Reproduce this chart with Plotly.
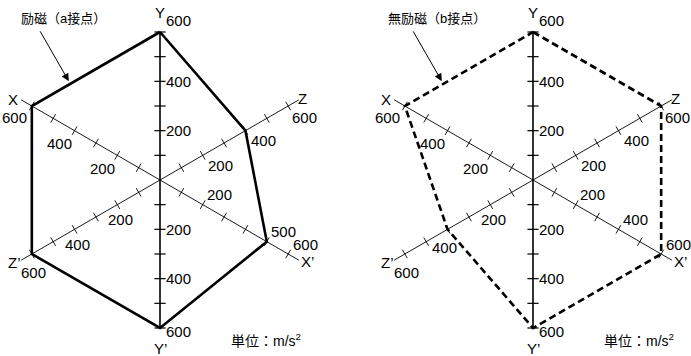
import math
import plotly.graph_objects as go

# axes in drawing order, angle measured counter-clockwise from +x
axis_names = ["Y", "Z", "X’", "Y’", "Z’", "X"]
axis_angles = [90, 30, -30, -90, 210, 150]
axis_extent = [600, 650, 650, 600, 650, 650]
tick_values = [100, 200, 300, 400, 500, 600]

# values (m/s2) on Y, Z, X', Y', Z', X
excited = [600, 400, 500, 600, 600, 600]
non_excited = [600, 600, 600, 600, 400, 600]

labels_excited = [[200, 400, 600], [200, 400, 600], [200, 500, 600],
                  [200, 400, 600], [200, 400, 600], [200, 400, 600]]
labels_non_excited = [[200, 400, 600], [200, 400, 600], [200, 400, 600],
                      [200, 400, 600], [200, 400, 600], [200, 400, 600]]

titles = ["励磁（a接点）", "無励磁（b接点）"]
unit_text = "単位：m/s<sup>2</sup>"

W, H = 691, 356
PX = 148 / 600  # pixels per m/s2
centers = [(160, 180), (533, 180)]
FONT = "Liberation Sans, Arial, Noto Sans CJK JP"


def pt(v, ang):
    a = math.radians(ang)
    return v * math.cos(a), v * math.sin(a)


# label offsets in pixels (dx, dy down) for normal and end (600) labels
lab_off = [(18, 0), (18, 10), (17, -10), (18, 0), (3, 15), (-15, 13)]
end_off = [(18, -12), (16, 11), (17, -10), (18, 3), (2, 18), (-17, 11)]
name_off = [(0, -20), (14, -8), (19, 7), (0, 20), (-17, 8), (-19, -7)]

fig = go.Figure()
annotations = []

panels = [(excited, labels_excited, "solid"), (non_excited, labels_non_excited, "7px,4px")]
for i, (vals, labs, dash) in enumerate(panels):
    xa = "x" if i == 0 else "x2"
    ya = "y" if i == 0 else "y2"

    # axis lines through the centre
    for a, b in [(0, 3), (1, 4), (2, 5)]:
        x0, y0 = pt(axis_extent[a], axis_angles[a])
        x1, y1 = pt(axis_extent[b], axis_angles[b])
        fig.add_trace(go.Scatter(
            x=[x0, x1], y=[y0, y1], mode="lines", xaxis=xa, yaxis=ya,
            line=dict(color="black", width=1.6 if a == 0 else 0.9),
            showlegend=False, hoverinfo="skip"))

    # tick marks
    for j, ang in enumerate(axis_angles):
        xs = [pt(v, ang)[0] for v in tick_values]
        ys = [pt(v, ang)[1] for v in tick_values]
        fig.add_trace(go.Scatter(
            x=xs, y=ys, mode="markers", xaxis=xa, yaxis=ya,
            marker=dict(symbol="line-ns", size=8 if j in (0, 3) else 7, angle=-ang,
                        line=dict(color="black", width=1.2 if j in (0, 3) else 0.9)),
            showlegend=False, hoverinfo="skip"))

    # polygon
    px = [pt(v, a)[0] for v, a in zip(vals, axis_angles)]
    py = [pt(v, a)[1] for v, a in zip(vals, axis_angles)]
    fig.add_trace(go.Scatter(
        x=px + px[:1], y=py + py[:1], mode="lines", xaxis=xa, yaxis=ya,
        line=dict(color="black", width=2.6, dash=dash),
        showlegend=False, hoverinfo="skip"))

    # tick labels
    for j, ang in enumerate(axis_angles):
        for v in labs[j]:
            x, y = pt(v, ang)
            dx, dy = end_off[j] if v == 600 else lab_off[j]
            # label pushed aside where the dashed edge crosses it
            if v == vals[j] and v != 600 and j == 4:
                dx, dy = dx - 6, dy + 3
            annotations.append(dict(
                x=x, y=y, xref=xa, yref=ya, text=str(v), showarrow=False,
                xshift=dx, yshift=-dy, font=dict(size=15, color="black", family=FONT)))
        # axis names
        x, y = pt(600, ang)
        dx, dy = name_off[j]
        annotations.append(dict(
            x=x, y=y, xref=xa, yref=ya, text=axis_names[j], showarrow=False,
            xshift=dx, yshift=-dy, font=dict(size=15, color="black", family=FONT)))

    # title with arrow pointing at the X-Y edge
    cx = centers[i][0]
    annotations.append(dict(
        x=(cx - 96) / W, y=1 - 19 / H, xref="paper", yref="paper", text=titles[i],
        xanchor="center", yanchor="middle", showarrow=False,
        font=dict(size=13, color="black", family=FONT)))
    t = 0.3
    xX, yX = pt(vals[5], axis_angles[5])
    xY, yY = pt(vals[0], axis_angles[0])
    annotations.append(dict(
        x=xX + t * (xY - xX), y=yX + t * (yY - yX), xref=xa, yref=ya, text="",
        showarrow=True, arrowhead=2, arrowsize=1.5, arrowwidth=1, arrowcolor="black",
        ax=-31, ay=-54, standoff=3))

    annotations.append(dict(
        x=(cx + 106) / W, y=1 - 340 / H, xref="paper", yref="paper", text=unit_text,
        xanchor="center", yanchor="middle", showarrow=False,
        font=dict(size=14, color="black", family=FONT)))


def axis_range(c, lo, hi):
    return [(lo - c) / PX, (hi - c) / PX]


half = W / 2
fig.update_layout(
    width=W, height=H,
    margin=dict(l=0, r=0, t=0, b=0),
    paper_bgcolor="white", plot_bgcolor="white",
    xaxis=dict(domain=[0, 0.5], range=axis_range(centers[0][0], 0, half), visible=False),
    yaxis=dict(domain=[0, 1], range=[-(H - centers[0][1]) / PX, centers[0][1] / PX], visible=False),
    xaxis2=dict(domain=[0.5, 1], range=axis_range(centers[1][0], half, W), visible=False),
    yaxis2=dict(domain=[0, 1], range=[-(H - centers[1][1]) / PX, centers[1][1] / PX], visible=False),
    annotations=annotations,
)

fig.write_html("out.html", config={"displayModeBar": False},
               post_script="document.body.style.margin='0';")
